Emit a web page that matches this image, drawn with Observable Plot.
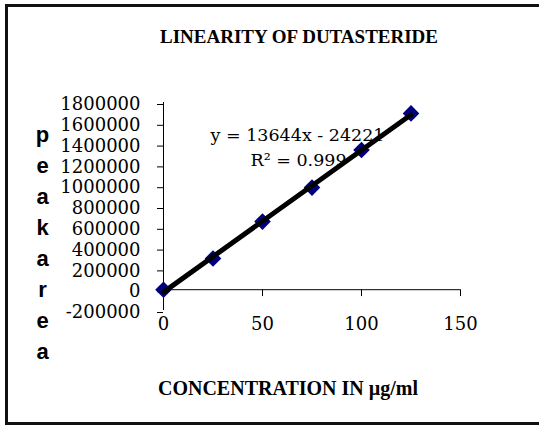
<!DOCTYPE html>
<html>
<head>
<meta charset="utf-8">
<script src="https://cdn.jsdelivr.net/npm/d3@7"></script>
<script src="https://cdn.jsdelivr.net/npm/@observablehq/plot@0.6"></script>
<style>
  html, body { margin: 0; padding: 0; background: #fff; overflow: hidden; }
  #wrap { position: relative; width: 539px; height: 426px; }
  #wrap svg { display: block; position: absolute; left: 0; top: 0; }
  #border { position: absolute; left: 5px; top: 4px; width: 600px; height: 421px;
            box-sizing: border-box; border-left: 3px solid #111; border-top: 3px solid #111;
            border-bottom: 3px solid #111; }
</style>
</head>
<body>
<div id="wrap"><div id="border"></div></div>
<script>
// Data
const concentration = [0, 25, 50, 75, 100, 125];
const peakArea = [0, 300000, 655000, 982000, 1343000, 1695000];
const xTicks = [0, 50, 100, 150];
const yTicks = [-200000, 0, 200000, 400000, 600000, 800000, 1000000, 1200000, 1400000, 1600000, 1800000];
const title = "LINEARITY OF DUTASTERIDE";
const xLabel = "CONCENTRATION IN µg/ml";
const yLabel = "peakarea";
const equation = ["y = 13644x - 24221"];
const rSquared = ["R² = 0.999"];

const data = concentration.map((x, i) => ({x, y: peakArea[i]}));
const tickShape = {draw(context, l) { context.moveTo(0, 0); context.lineTo(0, -l); }};
const serif = "'DejaVu Serif', serif";

const chart = Plot.plot({
  width: 539,
  height: 426,
  marginLeft: 163,
  marginRight: 79,
  marginTop: 102,
  marginBottom: 116,
  x: {domain: [0, 150]},
  y: {domain: [-200000, 1800000]},
  style: {fontFamily: serif, fontSize: "18px", color: "black", background: "transparent"},
  marks: [
    Plot.ruleX([0], {stroke: "black"}),
    Plot.ruleY([0], {stroke: "black"}),
    Plot.axisY({ticks: yTicks, tickSize: 6, tickPadding: 17, tickFormat: d => String(d), label: null, dy: 2}),
    Plot.axisX({ticks: xTicks, tickSize: 0, tickPadding: 7, tickFormat: d => String(d), label: null}),
    Plot.vector(xTicks.slice(1), {x: d => d, y: 0, length: 6, rotate: 180, anchor: "start", shape: tickShape, stroke: "black", strokeWidth: 1}),
    Plot.dot(data, {x: "x", y: "y", symbol: "diamond2", r: 7.5, fill: "#000080", stroke: "none"}),
    Plot.linearRegressionY(data, {x: "x", y: "y", ci: 0, stroke: "black", strokeWidth: 5}),
    Plot.text([title], {frameAnchor: "top", dx: -13, dy: -66, lineAnchor: "middle", fontFamily: "'Liberation Serif', serif", fontWeight: "bold", fontSize: 19}),
    Plot.text([xLabel], {frameAnchor: "bottom", dx: -24, dy: 78, lineAnchor: "middle", fontFamily: "'Liberation Serif', serif", fontWeight: "bold", fontSize: 20}),
    Plot.text([yLabel.split("").join("\n")], {frameAnchor: "left", dx: -121, dy: 34, lineAnchor: "middle", textAnchor: "middle", lineHeight: 1.41, fontFamily: "'Liberation Sans', Arial, sans-serif", fontWeight: "bold", fontSize: 22}),
    Plot.text(equation, {frameAnchor: "top-left", dx: 134, dy: 33, textAnchor: "middle", lineAnchor: "middle", fontSize: 17.5}),
    Plot.text(rSquared, {frameAnchor: "top-left", dx: 135, dy: 58, textAnchor: "middle", lineAnchor: "middle", fontSize: 17.5})
  ]
});
document.getElementById("wrap").appendChild(chart);
</script>
</body>
</html>
